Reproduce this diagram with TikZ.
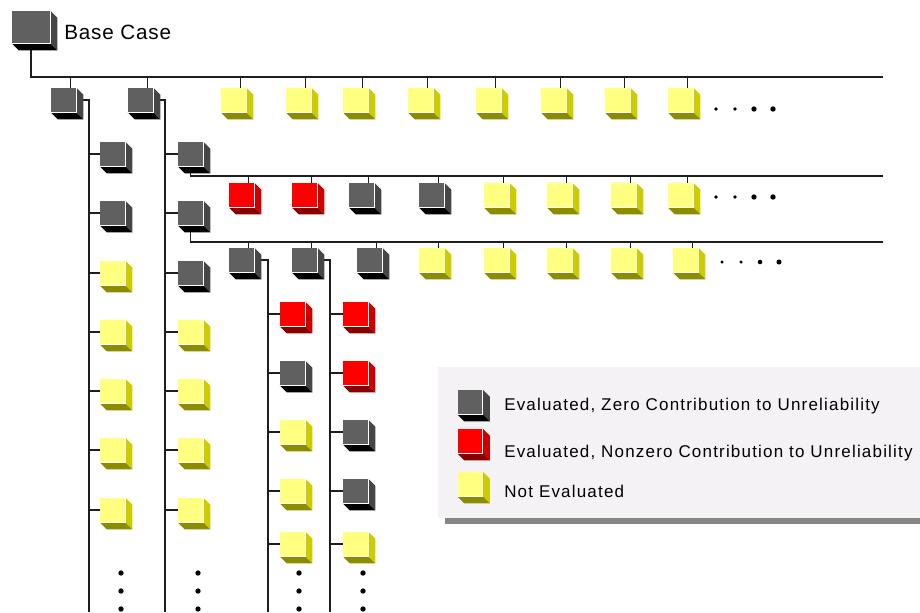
\documentclass[tikz,border=0pt]{standalone}
\usepackage{fontspec}
\usetikzlibrary{backgrounds}

\newfontfamily\titlefont[LetterSpace=4]{Liberation Sans}
\newfontfamily\keyfont[LetterSpace=7]{Liberation Sans}

\definecolor{gfront}{HTML}{606060}
\definecolor{gside}{HTML}{464646}
\definecolor{gbottom}{HTML}{000000}
\definecolor{rfront}{HTML}{FF0000}
\definecolor{rside}{HTML}{CC0000}
\definecolor{rbottom}{HTML}{880000}
\definecolor{yfront}{HTML}{FFFF80}
\definecolor{yside}{HTML}{CCCC00}
\definecolor{ybottom}{HTML}{8C8C00}
\definecolor{keyback}{HTML}{F5F2F5}
\definecolor{keyshadow}{HTML}{858585}
\definecolor{wirecol}{HTML}{1E1E1E}

\newlength\cubedepth
\setlength\cubedepth{5.25pt}

% bevelled cube: the front face is a node, side and bottom faces are filled after it
\newcommand\cube[4][]{% [options] name, centre, colour prefix
  \node[face, fill=#4front, #1] (#2) at (#3) {};
  \fill[#4side] (#2.north east) -- ([shift={(\cubedepth,-\cubedepth)}]#2.north east)
    -- ([shift={(\cubedepth,-\cubedepth)}]#2.south east) -- (#2.south east) -- cycle;
  \fill[#4bottom] (#2.south west) -- (#2.south east)
    -- ([shift={(\cubedepth,-\cubedepth)}]#2.south east)
    -- ([shift={(\cubedepth,-\cubedepth)}]#2.south west) -- cycle;
  \draw[white, line width=0.6pt] (#2.south west) -- (#2.south east) -- (#2.north east);
  \coordinate (#2-top) at ([xshift=5.25pt]#2.north);
}

\begin{document}
\begin{tikzpicture}[
  x=0.75pt, y=-0.75pt,
  face/.style = {inner sep=0pt, minimum width=18.75pt, minimum height=18pt},
  wire/.style = {draw=wirecol, line width=1.3pt},
  keytext/.style = {anchor=base west, inner sep=0pt, font=\keyfont\fontsize{12.75}{15}\selectfont}
]
  \useasboundingbox (0,0) rectangle (920,612);

  % ends of the three row lines and feet of the four columns
  \coordinate (line1) at (883,77);
  \coordinate (line2) at (883,176);
  \coordinate (line3) at (883,242);
  \coordinate (col1) at (89,612);
  \coordinate (col2) at (165,612);
  \coordinate (col3) at (268,612);
  \coordinate (col4) at (330,612);

  % base case
  \cube[minimum width=28.5pt, minimum height=24pt]{base}{31,27}{g}
  \node[anchor=base west, inner sep=0pt, font=\titlefont\fontsize{15.5}{18}\selectfont]
    (basetext) at (64,39) {Base Case};

  % first row
  \foreach \x/\tone [count=\i] in {63.5/g, 140.5/g, 233.5/y, 298.5/y, 355.5/y,
      420.5/y, 488.5/y, 553.5/y, 617.5/y, 680.5/y}
    \cube{a\i}{\x,100}{\tone};

  % second row
  \foreach \x/\tone [count=\i] in {241.5/r, 304.5/r, 361.5/g, 431.5/g, 496.5/y,
      559.5/y, 623.5/y, 680.5/y}
    \cube{b\i}{\x,195}{\tone};

  % third row
  \foreach \x/\tone [count=\i] in {241.5/g, 304.5/g, 369.5/g, 431.5/y, 496.5/y,
      559.5/y, 623.5/y, 685.5/y}
    \cube{c\i}{\x,260}{\tone};

  % columns hanging off the first row
  \foreach \y/\tone [count=\i] in {154/g, 213/g, 273/y, 332/y, 391/y, 450/y, 510/y}
    \cube{p\i}{112.5,\y}{\tone};
  \foreach \y/\tone [count=\i] in {154/g, 213/g, 273/g, 332/y, 391/y, 450/y, 510/y}
    \cube{q\i}{190.5,\y}{\tone};

  % columns hanging off the third row
  \foreach \y/\tone [count=\i] in {314/r, 373/g, 432/y, 491/y, 544/y}
    \cube{s\i}{292.5,\y}{\tone};
  \foreach \y/\tone [count=\i] in {314/r, 373/r, 432/g, 491/g, 544/y}
    \cube{t\i}{355.5,\y}{\tone};

  % connectors
  \begin{scope}[on background layer]
    \draw[wire] (base.south) |- (line1);
    \draw[wire] (q1.south) |- (line2);
    \draw[wire] (q2.south) |- (line3);
    \foreach \i in {1,...,10} \draw[wire] (a\i-top) -- (a\i-top |- line1);
    \foreach \i in {1,...,8} \draw[wire] (b\i-top) -- (b\i-top |- line2);
    \foreach \i in {1,...,8} \draw[wire] (c\i-top) -- (c\i-top |- line3);
    \draw[wire] (a1.east) -| (col1);
    \draw[wire] (a2.east) -| (col2);
    \draw[wire] (c1.east) -| (col3);
    \draw[wire] (c2.east) -| (col4);
    \foreach \i in {1,...,7} {
      \draw[wire] (p\i.west) -- (p\i.west -| col1);
      \draw[wire] (q\i.west) -- (q\i.west -| col2);
    }
    \foreach \i in {1,...,5} {
      \draw[wire] (s\i.west) -- (s\i.west -| col3);
      \draw[wire] (t\i.west) -- (t\i.west -| col4);
    }
  \end{scope}

  % continuation dots
  \foreach \x/\rad in {716/1.4, 735/1.4, 754/2, 773/2} {
    \fill (\x,109) circle (\rad pt);
    \fill (\x,197) circle (\rad pt);
  }
  \foreach \x/\rad in {722/1.3, 741/1.3, 760/1.7, 779/1.9}
    \fill (\x,262) circle (\rad pt);
  \foreach \x in {121, 198, 299, 363}
    \foreach \y in {573, 591, 609}
      \fill (\x,\y) circle (2pt);

  % legend
  \fill[keyshadow] (445,518) rectangle (920,524);
  \fill[keyback] (438,367) rectangle (920,518);
  \cube{keyzero}{470,402}{g}
  \cube{keynonzero}{470,441}{r}
  \cube{keynot}{470,484}{y}
  \node[keytext] (zerotext) at (504,410) {Evaluated, Zero Contribution to Unreliability};
  \node[keytext] (nonzerotext) at (504,457) {Evaluated, Nonzero Contribution to Unreliability};
  \node[keytext] (nottext) at (504,497) {Not Evaluated};
\end{tikzpicture}
\end{document}
